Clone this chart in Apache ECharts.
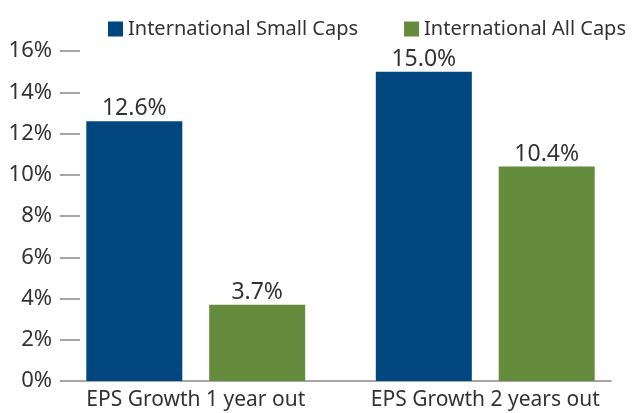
<!DOCTYPE html>
<html>
<head>
<meta charset="utf-8">
<script src="https://cdn.jsdelivr.net/npm/echarts@6/dist/echarts.min.js"></script>
<style>
  html, body { margin: 0; padding: 0; background: #fff; }
  #epsChart { width: 633px; height: 413px; }
</style>
</head>
<body>
<div id="epsChart"></div>
<script>
// EPS growth, small caps vs all caps
var categories = ['EPS Growth 1 year out', 'EPS Growth 2 years out'];
var smallCaps = [12.6, 15.0];
var allCaps = [3.7, 10.4];
var seriesNames = ['International Small Caps', 'International All Caps'];
var yTicks = [0, 2, 4, 6, 8, 10, 12, 14, 16];

var font = '"Noto Sans", sans-serif';
var textColor = '#333333';
var axisGray = '#a6a6a6';

var myChart = echarts.init(document.getElementById('epsChart'));
var option = {
  color: ['#00477f', '#648c3c'],
  animation: false,
  legend: {
    left: 103,
    top: 14,
    itemWidth: 15,
    itemHeight: 15,
    itemGap: 46,
    icon: 'rect',
    textStyle: { fontFamily: font, fontSize: 20, color: textColor },
    data: seriesNames
  },
  grid: [
    // bars
    { left: 51, right: 3, top: 51, bottom: 32 },
    // axis decoration (ticks + baseline)
    { left: 80, right: 22, top: 51, bottom: 32 }
  ],
  xAxis: [
    {
      type: 'category',
      gridIndex: 0,
      data: categories,
      axisLine: { show: false },
      axisTick: { show: false },
      axisLabel: { interval: 0, fontFamily: font, fontSize: 21, color: textColor, margin: 9 }
    },
    {
      type: 'category',
      gridIndex: 1,
      data: categories,
      axisLine: { lineStyle: { color: axisGray, width: 2 } },
      axisTick: { show: false },
      axisLabel: { show: false }
    }
  ],
  yAxis: [
    {
      type: 'value',
      gridIndex: 0,
      min: yTicks[0],
      max: yTicks[yTicks.length - 1],
      interval: 2,
      show: false
    },
    {
      type: 'value',
      gridIndex: 1,
      min: yTicks[0],
      max: yTicks[yTicks.length - 1],
      interval: 2,
      axisLine: { show: false },
      splitLine: { show: false },
      axisTick: { show: true, length: 20, lineStyle: { color: axisGray, width: 2 } },
      axisLabel: {
        fontFamily: font, fontSize: 22, color: textColor, margin: 28,
        formatter: function (v) { return v + '%'; }
      }
    }
  ],
  series: [
    {
      name: seriesNames[0],
      type: 'bar',
      xAxisIndex: 0,
      yAxisIndex: 0,
      barWidth: 96,
      barGap: '28%',
      data: smallCaps,
      label: {
        show: true, position: 'top', distance: 1,
        fontFamily: font, fontSize: 23, color: textColor,
        formatter: function (p) { return p.value.toFixed(1) + '%'; }
      }
    },
    {
      name: seriesNames[1],
      type: 'bar',
      xAxisIndex: 0,
      yAxisIndex: 0,
      barWidth: 96,
      barGap: '28%',
      data: allCaps,
      label: {
        show: true, position: 'top', distance: 1,
        fontFamily: font, fontSize: 23, color: textColor,
        formatter: function (p) { return p.value.toFixed(1) + '%'; }
      }
    }
  ]
};
myChart.setOption(option);
window.addEventListener('resize', function () { myChart.resize(); });
</script>
</body>
</html>
